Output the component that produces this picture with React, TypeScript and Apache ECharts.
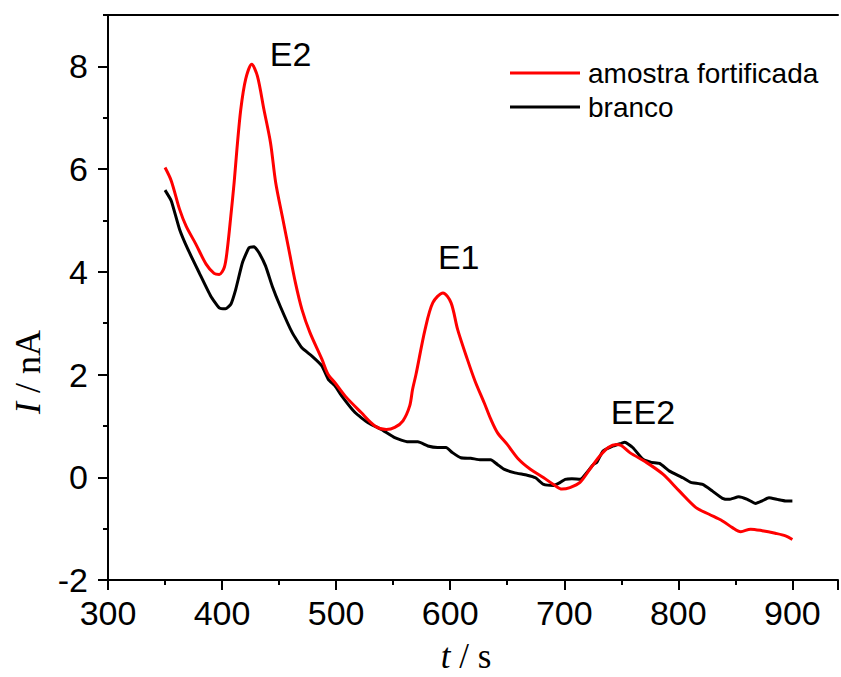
import React, { useEffect, useRef } from "react";
import * as echarts from "echarts";

// t / s  and  I / nA
const amostraFortificada: [number, number][] = [
  [350, 6.03], [355.5, 5.77], [362.7, 5.22], [368.5, 4.89], [377, 4.54], [386, 4.15],
  [393, 3.97], [397.5, 3.95], [402, 4.09], [404.6, 4.44], [407.7, 5.09], [410.6, 5.74],
  [413, 6.38], [416.4, 7.16], [420.7, 7.75], [426, 8.04], [431, 7.81], [436.7, 7.16],
  [442.5, 6.51], [447, 5.74], [452.7, 5.09], [458.5, 4.44], [464.3, 3.79], [470, 3.27],
  [477, 2.82], [487.5, 2.3], [493, 2.0], [499, 1.84], [508, 1.58], [522, 1.26],
  [534, 1.0], [544, 0.93], [551.4, 0.97], [558.6, 1.1], [564.5, 1.39], [567, 1.71],
  [570, 2.0], [578, 2.88], [584.8, 3.4], [593.7, 3.59], [600.7, 3.4], [606.5, 2.88],
  [615, 2.3], [622, 1.86], [629.8, 1.45], [635.6, 1.13], [641.4, 0.87], [650, 0.64],
  [660, 0.35], [670, 0.16], [682, -0.01], [690.6, -0.14], [698, -0.23], [705, -0.2],
  [713.8, -0.1], [722.5, 0.16], [731, 0.41], [738.6, 0.58], [745.8, 0.64], [750, 0.62],
  [757.5, 0.48], [772, 0.29], [786.5, 0.06], [801, -0.27], [815.5, -0.59], [827, -0.72],
  [838.7, -0.85], [847.4, -0.98], [854.7, -1.06], [863.4, -1.01], [873.6, -1.04],
  [885, -1.09], [894, -1.14], [900, -1.21],
];

const branco: [number, number][] = [
  [350, 5.59], [355.5, 5.38], [362.7, 4.83], [370, 4.44], [380, 3.98], [390, 3.53],
  [397.5, 3.3], [403, 3.28], [407.7, 3.37], [412, 3.66], [417.9, 4.18], [423.7, 4.47],
  [428, 4.49], [432.4, 4.37], [438.2, 4.11], [444, 3.72], [451, 3.33], [461.4, 2.82],
  [470, 2.52], [478.8, 2.36], [487.5, 2.17], [493.3, 1.9], [499, 1.78], [505, 1.58],
  [516.6, 1.26], [528, 1.06], [539.7, 0.93], [551.4, 0.77], [563, 0.69], [571.7, 0.69],
  [580.4, 0.61], [589, 0.58], [596.4, 0.58], [602, 0.48], [609.4, 0.38], [618, 0.37],
  [626.8, 0.34], [635.5, 0.34], [641.4, 0.25], [647, 0.16], [656, 0.09], [667.5, 0.04],
  [674.8, -0.01], [682, -0.14], [690.6, -0.16], [696.5, -0.1], [700.8, -0.04],
  [706.7, -0.03], [714, -0.04], [719.7, 0.09], [725.5, 0.25], [728.5, 0.29], [734, 0.51],
  [743, 0.61], [750, 0.66], [753, 0.68], [760, 0.58], [769, 0.35], [776.4, 0.29],
  [783.6, 0.27], [792.3, 0.12], [804, -0.01], [811, -0.1], [821.3, -0.14], [830, -0.27],
  [838.7, -0.41], [844.5, -0.43], [853, -0.38], [860.5, -0.43], [867.8, -0.51],
  [873.6, -0.46], [879.4, -0.4], [886.7, -0.43], [894, -0.46], [900, -0.46],
];

const seriesNames = ["amostra fortificada", "branco"];
const peakLabels = ["E2", "E1", "EE2"];
const peakLabelCoords: [number, number][] = [[460, 8.25], [607.5, 4.28], [769, 1.28]];

const xMajorTicks = [300, 400, 500, 600, 700, 800, 900];
const yMajorTicks = [-2, 0, 2, 4, 6, 8];
const yMinorTicks = [-1, 1, 3, 5, 7, 9];

const X_MIN = 300;
const X_MAX = 940;
const Y_MIN = -2;
const Y_MAX = 9;

const sans = "'Liberation Sans', Arial, sans-serif";
const serif = "'Liberation Serif', 'Times New Roman', serif";

export default function App() {
  const ref = useRef<HTMLDivElement>(null);

  useEffect(() => {
    document.body.style.margin = "0";
    if (!ref.current) return;
    const chart = echarts.init(ref.current, undefined, { renderer: "svg" });

    const axisLine = { show: true, onZero: false, lineStyle: { color: "#000", width: 2 } };
    const noLine = { show: false, onZero: false };

    chart.setOption({
      animation: false,
      backgroundColor: "#fff",
      grid: { left: 108, top: 15, width: 735, height: 565, containLabel: false },
      legend: {
        data: seriesNames,
        orient: "vertical",
        left: 505,
        top: 54,
        padding: 5,
        icon: "rect",
        itemWidth: 70,
        itemHeight: 3,
        itemGap: 6,
        textStyle: { fontFamily: sans, fontSize: 28, color: "#000", lineHeight: 28, padding: [0, 0, 0, 3] },
      },
      xAxis: [
        {
          type: "value", min: X_MIN, max: X_MAX, interval: 100, position: "bottom",
          axisLine, splitLine: { show: false },
          axisTick: { show: true, inside: false, length: 10, lineStyle: { width: 2, color: "#000" } },
          axisLabel: {
            margin: 16, fontFamily: sans, fontSize: 34, color: "#000",
            formatter: (v: number) => (xMajorTicks.includes(v) ? String(v) : ""),
          },
        },
        {
          type: "value", min: X_MIN, max: X_MAX, interval: 50, position: "bottom",
          axisLine: noLine, splitLine: { show: false }, axisLabel: { show: false },
          axisTick: { show: true, inside: false, length: 5, lineStyle: { width: 2, color: "#000" } },
        },
        {
          type: "value", min: X_MIN, max: X_MAX, position: "top",
          axisLine, axisTick: { show: false }, axisLabel: { show: false }, splitLine: { show: false },
        },
      ],
      yAxis: [
        {
          type: "value", min: Y_MIN, max: Y_MAX, interval: 1, position: "left",
          axisLine, splitLine: { show: false },
          axisTick: { show: true, inside: false, length: 10, customValues: yMajorTicks, lineStyle: { width: 2, color: "#000" } },
          axisLabel: {
            margin: 20, fontFamily: sans, fontSize: 34, color: "#000", customValues: yMajorTicks,
            formatter: (v: number) => (yMajorTicks.includes(v) ? String(v) : ""),
          },
        },
        {
          type: "value", min: Y_MIN, max: Y_MAX, interval: 1, position: "left",
          axisLine: noLine, splitLine: { show: false }, axisLabel: { show: false },
          axisTick: { show: true, inside: false, length: 5, customValues: yMinorTicks, lineStyle: { width: 2, color: "#000" } },
        },
      ],
      series: [
        {
          name: seriesNames[0], type: "line", data: amostraFortificada, showSymbol: false,
          symbol: "none", smooth: 0.3, lineStyle: { color: "#ff0000", width: 3 }, itemStyle: { color: "#ff0000" },
          z: 3,
        },
        {
          name: seriesNames[1], type: "line", data: branco, showSymbol: false,
          symbol: "none", smooth: 0.15, lineStyle: { color: "#000000", width: 3 }, itemStyle: { color: "#000000" },
          z: 2,
          markPoint: {
            symbol: "circle", symbolSize: 0, silent: true,
            label: { show: true, position: "inside", fontFamily: sans, fontSize: 34, color: "#000" },
            data: peakLabels.map((name, i) => ({ name, coord: peakLabelCoords[i], value: name,
              label: { formatter: name } })),
          },
        },
      ],
      graphic: [
        {
          type: "text", x: 28, y: 372, rotation: Math.PI / 2,
          style: {
            text: "{i|I}{n| / nA}", align: "center", verticalAlign: "middle",
            rich: {
              i: { fontFamily: serif, fontSize: 36, lineHeight: 30, fontStyle: "italic", fill: "#000" },
              n: { fontFamily: serif, fontSize: 36, lineHeight: 30, fill: "#000" },
            },
          },
        },
        {
          type: "text", x: 466, y: 656,
          style: {
            text: "{i|t}{n| / s}", align: "center", verticalAlign: "middle",
            rich: {
              i: { fontFamily: serif, fontSize: 35, lineHeight: 26, fontStyle: "italic", fill: "#000" },
              n: { fontFamily: serif, fontSize: 35, lineHeight: 26, fill: "#000" },
            },
          },
        },
      ],
    });

    return () => chart.dispose();
  }, []);

  return (
    <div
      ref={ref}
      style={{ position: "fixed", left: 0, top: 0, width: 841, height: 677, overflow: "hidden" }}
    />
  );
}
